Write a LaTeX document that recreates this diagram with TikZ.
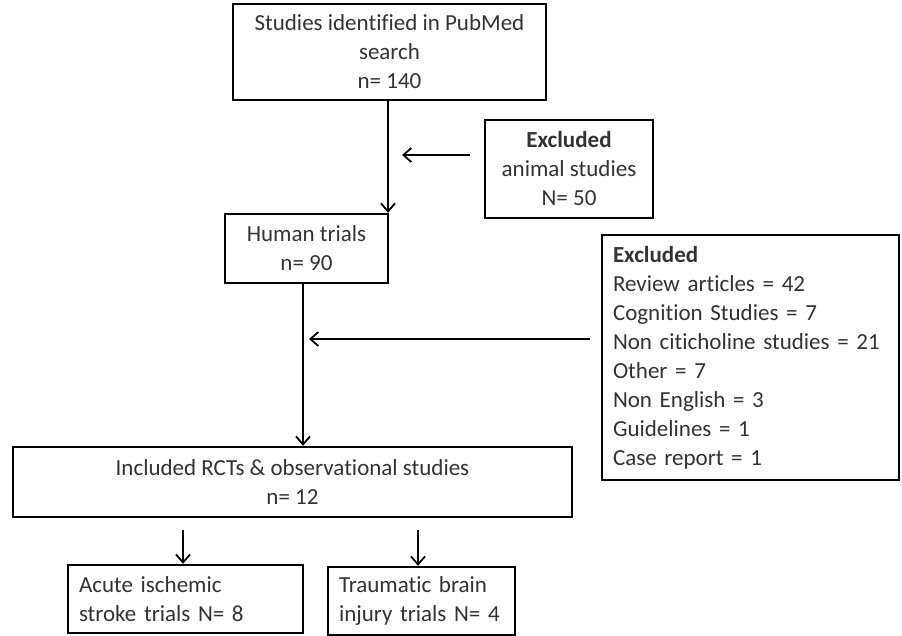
\documentclass[tikz,border=0pt]{standalone}
\usepackage{fontspec}
\setmainfont{Carlito}[Ligatures=NoCommon]
\usetikzlibrary{arrows.meta}
\definecolor{txt}{HTML}{333333}
\begin{document}
\begin{tikzpicture}[x=1pt,y=-1pt,
  box/.style={draw=black, line width=2.4pt, inner sep=0pt, font=\fontsize{23}{29}\selectfont, text=txt, align=center},
  lbox/.style={box, align=left, inner xsep=11pt},
  arr/.style={line width=1.8pt, -{Straight Barb[length=8pt,width=14pt,line width=1.8pt]}}]
\useasboundingbox[fill=white] (0,0) rectangle (902,636);
\node[box, minimum width=313pt, minimum height=96pt] (s) at (389.5,52) {Studies identified in PubMed\\search\\n= 140};
\node[box, minimum width=168pt, minimum height=98pt] (a) at (569,169) {\textbf{Excluded}\\animal studies\\N= 50};
\node[box, minimum width=163pt, minimum height=69pt] (h) at (306.5,248.5) {Human trials\\n= 90};
\node[lbox, text width=275pt, minimum width=297pt, minimum height=245pt] (e) at (750.5,357.5) {\textbf{Excluded}\\Review articles = 42\\Cognition Studies = 7\\Non citicholine studies = 21\\Other = 7\\Non English = 3\\Guidelines = 1\\Case report = 1};
\node[box, minimum width=559pt, minimum height=70pt] (i) at (292.5,482) {Included RCTs \& observational studies\\n= 12};
\node[lbox, text width=213pt, minimum width=235pt, minimum height=68pt] (ac) at (185.5,599) {Acute ischemic\\stroke trials N= 8};
\node[lbox, text width=165pt, minimum width=187pt, minimum height=68pt] (tb) at (421.5,601) {Traumatic brain\\injury trials N= 4};
\coordinate (c1) at (388,0);
\coordinate (c2) at (303,0);
\coordinate (p1) at (470,155);
\coordinate (p2) at (402,155);
\coordinate (q1) at (590,339);
\coordinate (q2) at (309,339);
\coordinate (r1) at (183,530);
\coordinate (r2) at (418,530);
\draw[arr] (s.south -| c1) -- (h.north -| c1);
\draw[arr] (p1) -- (p2);
\draw[arr] (h.south -| c2) -- (i.north -| c2);
\draw[arr] (q1) -- (q2);
\draw[arr] (r1) -- (r1 |- ac.north);
\draw[arr] (r2) -- (r2 |- tb.north);
\end{tikzpicture}
\end{document}
